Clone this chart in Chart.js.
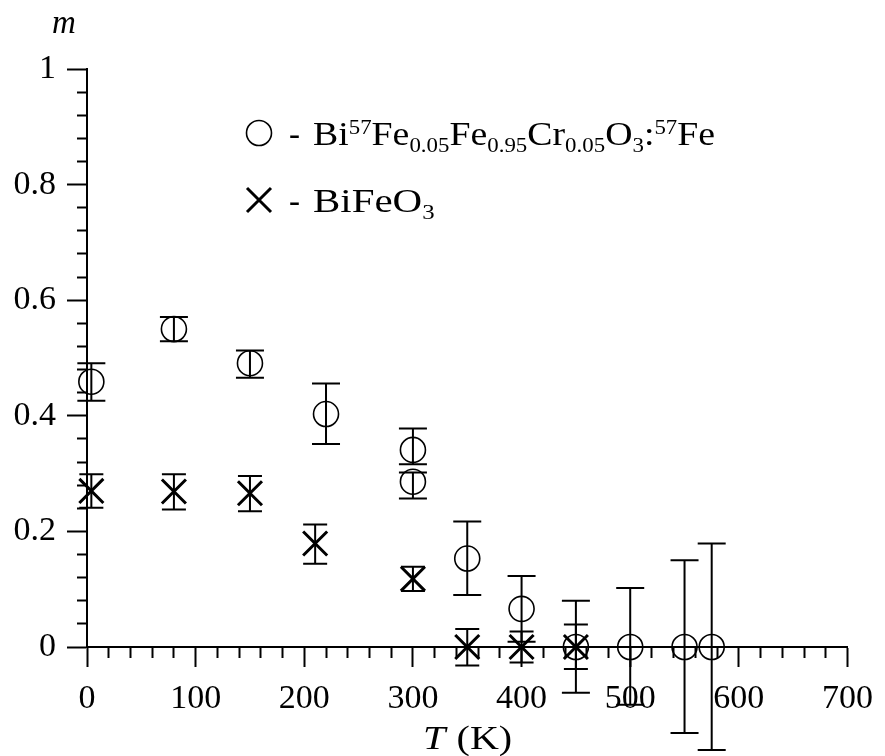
<!DOCTYPE html>
<html>
<head>
<meta charset="utf-8">
<script src="https://cdn.jsdelivr.net/npm/chart.js@4.4.1/dist/chart.umd.min.js"></script>
<style>
  body { margin: 0; background: #fff; }
  canvas { display: block; }
</style>
</head>
<body>
<canvas id="myChart" width="885" height="756"></canvas>
<script>
// Bi57Fe0.05Fe0.95Cr0.05O3:57Fe (circles)
var circT = [4, 80, 150, 220, 300, 300, 350, 400, 450, 500, 550, 575];
var circM = [0.459, 0.550, 0.491, 0.403, 0.341, 0.286, 0.153, 0.066, 0, 0, 0, 0];
var circErrUp = [0.032, 0.021, 0.022, 0.053, 0.037, 0.016, 0.064, 0.057, 0.080, 0.102, 0.150, 0.179];
var circErrDown = [0.033, 0.021, 0.025, 0.052, 0.025, 0.029, 0.063, 0.057, 0.079, 0.100, 0.149, 0.178];

// BiFeO3 (crosses)
var crossT = [4, 80, 150, 210, 300, 350, 400, 450];
var crossM = [0.270, 0.269, 0.266, 0.179, 0.118, 0, 0, 0];
var crossErrUp = [0.029, 0.030, 0.030, 0.033, 0.021, 0.031, 0.027, 0.039];
var crossErrDown = [0.029, 0.031, 0.031, 0.035, 0.021, 0.032, 0.027, 0.038];

var xMajor = [0, 100, 200, 300, 400, 500, 600, 700];
var yMajor = [0, 0.2, 0.4, 0.6, 0.8, 1];

var FONT = 'Liberation Serif';

function pairs(xs, ys) {
    return xs.map(function (x, i) { return { x: x, y: ys[i] }; });
}
function isMajorX(v) {
    return xMajor.indexOf(Math.round(v)) >= 0;
}
function isMajorY(v) {
    return yMajor.some(function (m) { return Math.abs(m - v) < 1e-6; });
}

// vertical error bars with caps
var errorBars = {
    id: 'errorBars',
    afterDatasetsDraw: function (chart) {
        var ctx = chart.ctx;
        var xs = chart.scales.x, ys = chart.scales.y;
        var sets = [
            { t: circT, m: circM, up: circErrUp, dn: circErrDown, cap: 14 },
            { t: crossT, m: crossM, up: crossErrUp, dn: crossErrDown, cap: 12 }
        ];
        ctx.save();
        ctx.strokeStyle = '#000';
        ctx.lineWidth = 2;
        sets.forEach(function (s) {
            s.t.forEach(function (t, i) {
                var px = xs.getPixelForValue(t);
                var top = ys.getPixelForValue(s.m[i] + s.up[i]);
                var bot = ys.getPixelForValue(s.m[i] - s.dn[i]);
                ctx.beginPath();
                ctx.moveTo(px, top); ctx.lineTo(px, bot);
                ctx.moveTo(px - s.cap, top); ctx.lineTo(px + s.cap, top);
                ctx.moveTo(px - s.cap, bot); ctx.lineTo(px + s.cap, bot);
                ctx.stroke();
            });
        });
        ctx.restore();
    }
};

// text with sub/superscripts, stretched horizontally by sx
function drawRich(ctx, x, y, sx, parts) {
    ctx.save();
    ctx.translate(x, y);
    ctx.scale(sx, 1);
    var cx = 0;
    parts.forEach(function (p) {
        var size = p.k === 'n' ? 33 : 20;
        var dy = p.k === 'sup' ? -11 : (p.k === 'sub' ? 7 : 0);
        ctx.font = size + 'px "' + FONT + '"';
        ctx.fillText(p.s, cx, dy);
        cx += ctx.measureText(p.s).width;
    });
    ctx.restore();
}

var labels = {
    id: 'labels',
    afterDraw: function (chart) {
        var ctx = chart.ctx;
        ctx.save();
        ctx.fillStyle = '#000';
        ctx.strokeStyle = '#000';
        ctx.textBaseline = 'alphabetic';
        ctx.textAlign = 'left';

        ctx.font = 'italic 33px "' + FONT + '"';
        ctx.fillText('m', 52, 33);

        // x axis title, italic T
        ctx.save();
        ctx.translate(423, 749);
        ctx.scale(1.18, 1);
        ctx.font = 'italic 34px "' + FONT + '"';
        ctx.fillText('T', 0, 0);
        var w = ctx.measureText('T').width;
        ctx.font = '34px "' + FONT + '"';
        ctx.fillText(' (K)', w + 1, 0);
        ctx.restore();

        // legend markers
        ctx.lineWidth = 1.6;
        ctx.beginPath();
        ctx.arc(259, 133, 12.5, 0, Math.PI * 2);
        ctx.stroke();
        ctx.lineWidth = 3;
        ctx.beginPath();
        ctx.moveTo(247, 188); ctx.lineTo(271, 212);
        ctx.moveTo(271, 188); ctx.lineTo(247, 212);
        ctx.stroke();

        ctx.font = '33px "' + FONT + '"';
        ctx.fillText('-', 289, 145);
        ctx.fillText('-', 289, 212);
        drawRich(ctx, 313, 145, 1.145, [
            { s: 'Bi', k: 'n' }, { s: '57', k: 'sup' }, { s: 'Fe', k: 'n' }, { s: '0.05', k: 'sub' },
            { s: 'Fe', k: 'n' }, { s: '0.95', k: 'sub' }, { s: 'Cr', k: 'n' }, { s: '0.05', k: 'sub' },
            { s: 'O', k: 'n' }, { s: '3', k: 'sub' }, { s: ':', k: 'n' }, { s: '57', k: 'sup' }, { s: 'Fe', k: 'n' }
        ]);
        drawRich(ctx, 313, 212, 1.24, [
            { s: 'BiFeO', k: 'n' }, { s: '3', k: 'sub' }
        ]);
        ctx.restore();
    }
};

var area = document.getElementById('myChart');

new Chart(area, {
    type: 'scatter',
    data: {
        datasets: [{
            label: 'circles',
            data: pairs(circT, circM),
            pointStyle: 'circle',
            pointRadius: 12.5,
            pointBorderWidth: 1.6,
            pointBackgroundColor: 'rgba(0,0,0,0)',
            pointBorderColor: '#000',
            clip: false
        }, {
            label: 'crosses',
            data: pairs(crossT, crossM),
            pointStyle: 'crossRot',
            pointRadius: 17,
            pointBorderWidth: 3,
            pointBorderColor: '#000',
            clip: false
        }]
    },
    options: {
        responsive: false,
        animation: false,
        events: [],
        layout: { padding: { top: 69, right: 32, left: 0, bottom: 0 } },
        plugins: { legend: { display: false }, tooltip: { enabled: false } },
        scales: {
            x: {
                type: 'linear',
                min: 0, max: 700,
                afterFit: function (s) { s.height = 109; },
                border: { display: true, color: '#000', width: 2 },
                grid: {
                    drawOnChartArea: false,
                    drawTicks: true,
                    tickLength: 20,
                    tickWidth: 2,
                    tickColor: '#000',
                    tickBorderDash: function (c) { return isMajorX(c.tick.value) ? [] : [10, 40]; }
                },
                ticks: {
                    stepSize: 20,
                    autoSkip: false,
                    maxRotation: 0,
                    padding: 12,
                    color: '#000',
                    font: { family: FONT, size: 34 },
                    callback: function (v) { return isMajorX(v) ? String(Math.round(v)) : ''; }
                }
            },
            y: {
                type: 'linear',
                min: 0, max: 1,
                afterFit: function (s) { s.width = 87; },
                border: { display: true, color: '#000', width: 2 },
                grid: {
                    drawOnChartArea: false,
                    drawTicks: true,
                    tickLength: 20,
                    tickWidth: 2,
                    tickColor: '#000',
                    tickBorderDash: function (c) { return isMajorY(c.tick.value) ? [] : [0, 10, 40]; }
                },
                ticks: {
                    stepSize: 0.04,
                    autoSkip: false,
                    padding: 11,
                    color: '#000',
                    font: { family: FONT, size: 34 },
                    callback: function (v) { return isMajorY(v) ? String(+v.toFixed(1)) : ''; }
                }
            }
        }
    },
    plugins: [errorBars, labels]
});
</script>
</body>
</html>
